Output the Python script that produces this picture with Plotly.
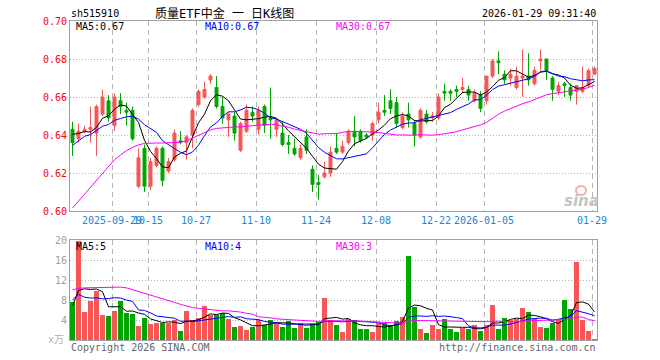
import plotly.graph_objects as go
import pandas as pd

# ---------------- data ----------------
opens = [.643,.638,.642,.643,.641,.651,.658,.645,.658,.653,
         .653,.613,.633,.613,.624,.633,.621,.627,.637,.636,
         .640,.656,.660,.669,.665,.655,.648,.650,.632,.642,
         .652,.643,.655,.649,.643,.641,.636,.633,.628,.639,
         .622,.615,.618,.620,.633,.631,.636,.642,.642,.640,
         .640,.648,.653,.658,.657,.644,.651,.646,.639,.651,
         .649,.649,.663,.663,.664,.664,.664,.658,.661,.658,
         .671,.679,.672,.670,.665,.670,.671,.667,.679,.680,
         .670,.663,.667,.665,.663,.663,.666,.672]
highs = [.647,.646,.645,.655,.656,.664,.661,.662,.662,.657,
         .655,.633,.635,.628,.634,.634,.628,.643,.642,.640,
         .654,.664,.668,.672,.671,.660,.652,.652,.647,.656,
         .655,.655,.656,.665,.649,.647,.640,.638,.635,.643,
         .624,.619,.626,.634,.641,.637,.643,.650,.643,.641,
         .647,.657,.661,.664,.660,.652,.657,.648,.654,.653,
         .652,.662,.667,.664,.666,.670,.666,.664,.663,.671,
         .680,.684,.674,.675,.676,.685,.683,.676,.685,.680,
         .671,.668,.668,.667,.666,.676,.675,.676]
lows = [.629,.636,.641,.636,.629,.650,.647,.642,.651,.645,
        .637,.612,.610,.611,.623,.613,.620,.626,.635,.627,
        .633,.655,.659,.667,.654,.646,.639,.637,.631,.641,
        .647,.640,.641,.638,.639,.634,.630,.629,.627,.630,
        .610,.606,.617,.618,.630,.630,.635,.634,.636,.638,
        .637,.646,.650,.651,.644,.643,.644,.634,.638,.646,
        .647,.648,.658,.658,.660,.662,.658,.657,.652,.656,
        .670,.672,.667,.666,.664,.660,.666,.666,.674,.669,
        .658,.661,.660,.658,.656,.662,.665,.672]
closes = [.636,.642,.643,.644,.655,.660,.649,.660,.655,.652,
          .638,.628,.613,.626,.633,.616,.626,.641,.636,.639,
          .653,.663,.664,.671,.655,.649,.651,.641,.646,.653,
          .650,.653,.645,.648,.648,.635,.635,.630,.633,.632,
          .614,.614,.620,.631,.631,.634,.642,.639,.637,.639,
          .646,.652,.652,.654,.646,.650,.648,.640,.653,.647,
          .650,.660,.662,.662,.663,.665,.661,.662,.654,.671,
          .679,.678,.669,.672,.671,.671,.669,.674,.680,.674,
          .664,.666,.666,.661,.666,.665,.674,.675]
# volume, 10k
volumes = [7.7,19.9,5.6,7.9,9.9,5.0,4.8,5.8,7.8,5.4,
           5.2,2.8,4.5,3.2,3.5,3.5,3.5,4.1,1.8,5.8,
           4.0,4.5,6.8,5.1,5.0,5.5,4.2,2.6,2.8,2.0,
           2.7,4.1,3.1,4.0,3.5,2.6,3.8,2.4,3.5,2.4,
           3.3,3.7,8.4,4.1,3.1,1.6,4.3,4.0,2.2,2.2,
           1.6,3.5,3.5,3.0,3.9,4.7,16.8,6.6,2.2,1.4,
           3.0,2.2,4.2,2.2,1.6,2.5,2.2,3.0,1.8,3.0,
           7.0,2.2,4.4,4.0,4.3,6.4,5.7,4.2,2.6,2.4,
           3.4,4.1,8.0,6.2,15.7,4.1,1.9,0.2]
# sessions before the visible window (estimated from the moving-average lines)
prior_close = [.531,.532,.533,.542,.549,.541,.564,.580,.583,.587,
               .589,.589,.620,.633,.616,.623,.638,.630,.615,.608,
               .618,.619,.635,.631,.640,.640,.638,.645,.643]
prior_volume = [10.9,2.6,6.4,8.4,5.0,3.3,4.3,9.3,9.9,15.7,
                13.3,16.5,12.2,15.5,12.5,12.5,19.1,13.8,17.8,11.5,
                9.0,11.3,9.6,9.5,7.0,4.2,4.1,8.5,9.5]

tick_index = [7, 13, 21, 31, 41, 51, 61, 69, 87]
tick_labels = ["2025-09-29", "10-15", "10-27", "11-10", "11-24",
               "12-08", "12-22", "2026-01-05", "01-29"]
price_ticks = [0.60, 0.62, 0.64, 0.66, 0.68, 0.70]
volume_ticks = [4, 8, 12, 16, 20]

# ---------------- derived ----------------
n = len(closes)
idx = list(range(n))
np_ = len(prior_close)
cs = pd.Series(prior_close + closes)
vs = pd.Series(prior_volume + volumes)
ma = {}
for w in (5, 10, 30):
    ma[("p", w)] = cs.rolling(w, min_periods=1).mean().iloc[np_:].tolist()
    ma[("v", w)] = vs.rolling(w, min_periods=1).mean().iloc[np_:].tolist()

RED = "#f65656"
GREEN = "#00a600"
MA_COL = {5: "#000000", 10: "#0000ff", 30: "#ff00ff"}
vol_colors = [RED if c >= o else GREEN for o, c in zip(opens, closes)]

fig = go.Figure()
fig.add_trace(go.Candlestick(
    x=idx, open=opens, high=highs, low=lows, close=closes,
    increasing=dict(line=dict(color=RED, width=1), fillcolor=RED),
    decreasing=dict(line=dict(color=GREEN, width=1), fillcolor=GREEN),
    whiskerwidth=0, xaxis="x", yaxis="y", hoverinfo="none", showlegend=False))
for w in (5, 10, 30):
    fig.add_trace(go.Scatter(x=idx, y=ma[("p", w)], mode="lines",
                             line=dict(color=MA_COL[w], width=1),
                             xaxis="x", yaxis="y", hoverinfo="skip", showlegend=False))
fig.add_trace(go.Bar(x=idx, y=volumes, marker=dict(color=vol_colors, line=dict(width=0)),
                     width=0.83, xaxis="x2", yaxis="y2", hoverinfo="skip", showlegend=False))
for w in (5, 10, 30):
    fig.add_trace(go.Scatter(x=idx, y=ma[("v", w)], mode="lines",
                             line=dict(color=MA_COL[w], width=1),
                             xaxis="x2", yaxis="y2", hoverinfo="skip", showlegend=False))

# pixel helpers for the frame: plot area x 70..597, y 21..340
L, R, T, B = 70, 597, 21, 340
def px(x):
    return (x - L) / (R - L)
def py(y):
    return (B - y) / (B - T)

grid_x = dict(showgrid=True, gridcolor="#b4b4b4", gridwidth=1, griddash="5px,4px",
              showline=True, linecolor="#a0a0a0", linewidth=1, mirror=True,
              zeroline=False, ticks="", tickvals=[i - 5 / 12 for i in tick_index],
              range=[-5 / 12, n - 1 + 5 / 12])
mono = "DejaVu Sans Mono"

fig.update_layout(
    width=660, height=360,
    margin=dict(l=L, r=660 - R, t=T, b=360 - B),
    paper_bgcolor="white", plot_bgcolor="white",
    boxgap=0.3,
    bargap=0,
    font=dict(family=mono, size=10),
    xaxis=dict(domain=[0, 1], anchor="y", ticktext=tick_labels, tickangle=0,
               tickfont=dict(color="#1a86d6", size=10, family=mono),
               rangeslider=dict(visible=False), **grid_x),
    xaxis2=dict(domain=[0, 1], anchor="y2", matches="x", showticklabels=False,
                ticktext=tick_labels, **grid_x),
    yaxis=dict(domain=[py(211), 1], range=[0.60, 0.70], tickvals=price_ticks,
               ticktext=["%.2f" % v for v in price_ticks],
               tickfont=dict(color="#ff0000", size=10, family=mono),
               showgrid=True, gridcolor="#b4b4b4", griddash="1px,2px",
               showline=True, linecolor="#a0a0a0", mirror=True, zeroline=False, ticks=""),
    yaxis2=dict(domain=[0, py(240)], range=[0, 20], tickvals=volume_ticks,
                ticktext=[str(v) for v in volume_ticks],
                tickfont=dict(color="#a0a0a0", size=10, family=mono),
                showgrid=True, gridcolor="#b4b4b4", griddash="1px,2px",
                showline=True, linecolor="#a0a0a0", mirror=True, zeroline=False, ticks=""),
)

def note(text, x, y, color, xanchor="left", size=10, family=mono):
    fig.add_annotation(text=text, x=px(x), y=py(y), xref="paper", yref="paper",
                       xanchor=xanchor, yanchor="middle", showarrow=False,
                       font=dict(color=color, size=size, family=family))

note("sh515910", 69, 13, "#000000")
note("质量ETF中金 一 日K线图", 224, 13, "#000000", xanchor="center", size=12,
     family="DejaVu Sans Mono, Noto Sans CJK SC")
note("2026-01-29 09:31:40", 598, 13, "#000000", xanchor="right")
note("MA5:%.2f" % ma[("p", 5)][-1], 74, 27, MA_COL[5])
note("MA10:%.2f" % ma[("p", 10)][-1], 203, 27, MA_COL[10])
note("MA30:%.2f" % ma[("p", 30)][-1], 334, 27, MA_COL[30])
note("MA5:%d" % int(ma[("v", 5)][-1]), 74, 246, MA_COL[5])
note("MA10:%d" % int(ma[("v", 10)][-1]), 203, 246, MA_COL[10])
note("MA30:%d" % int(ma[("v", 30)][-1]), 334, 246, MA_COL[30])
note("Copyright 2026 SINA.COM", 69, 347, "#666666")
note("http://finance.sina.com.cn", 598, 347, "#666666", xanchor="right")
note("x万", 66, 339, "#b0b0b0", xanchor="right", size=10,
     family="DejaVu Sans Mono, Noto Sans CJK SC")
# sina watermark
note("<b><i>sina</i></b>", 581, 201, "#c4c4c4", xanchor="center", size=15,
     family="DejaVu Sans")
fig.add_shape(type="circle", xref="paper", yref="paper",
              x0=px(576), x1=px(586), y0=py(195), y1=py(186),
              line=dict(color="#f2b0b0", width=2), fillcolor="rgba(0,0,0,0)")

fig.write_html("out.html", config={"displayModeBar": False},
               post_script="document.body.style.margin='0';document.body.style.overflow='hidden';")
